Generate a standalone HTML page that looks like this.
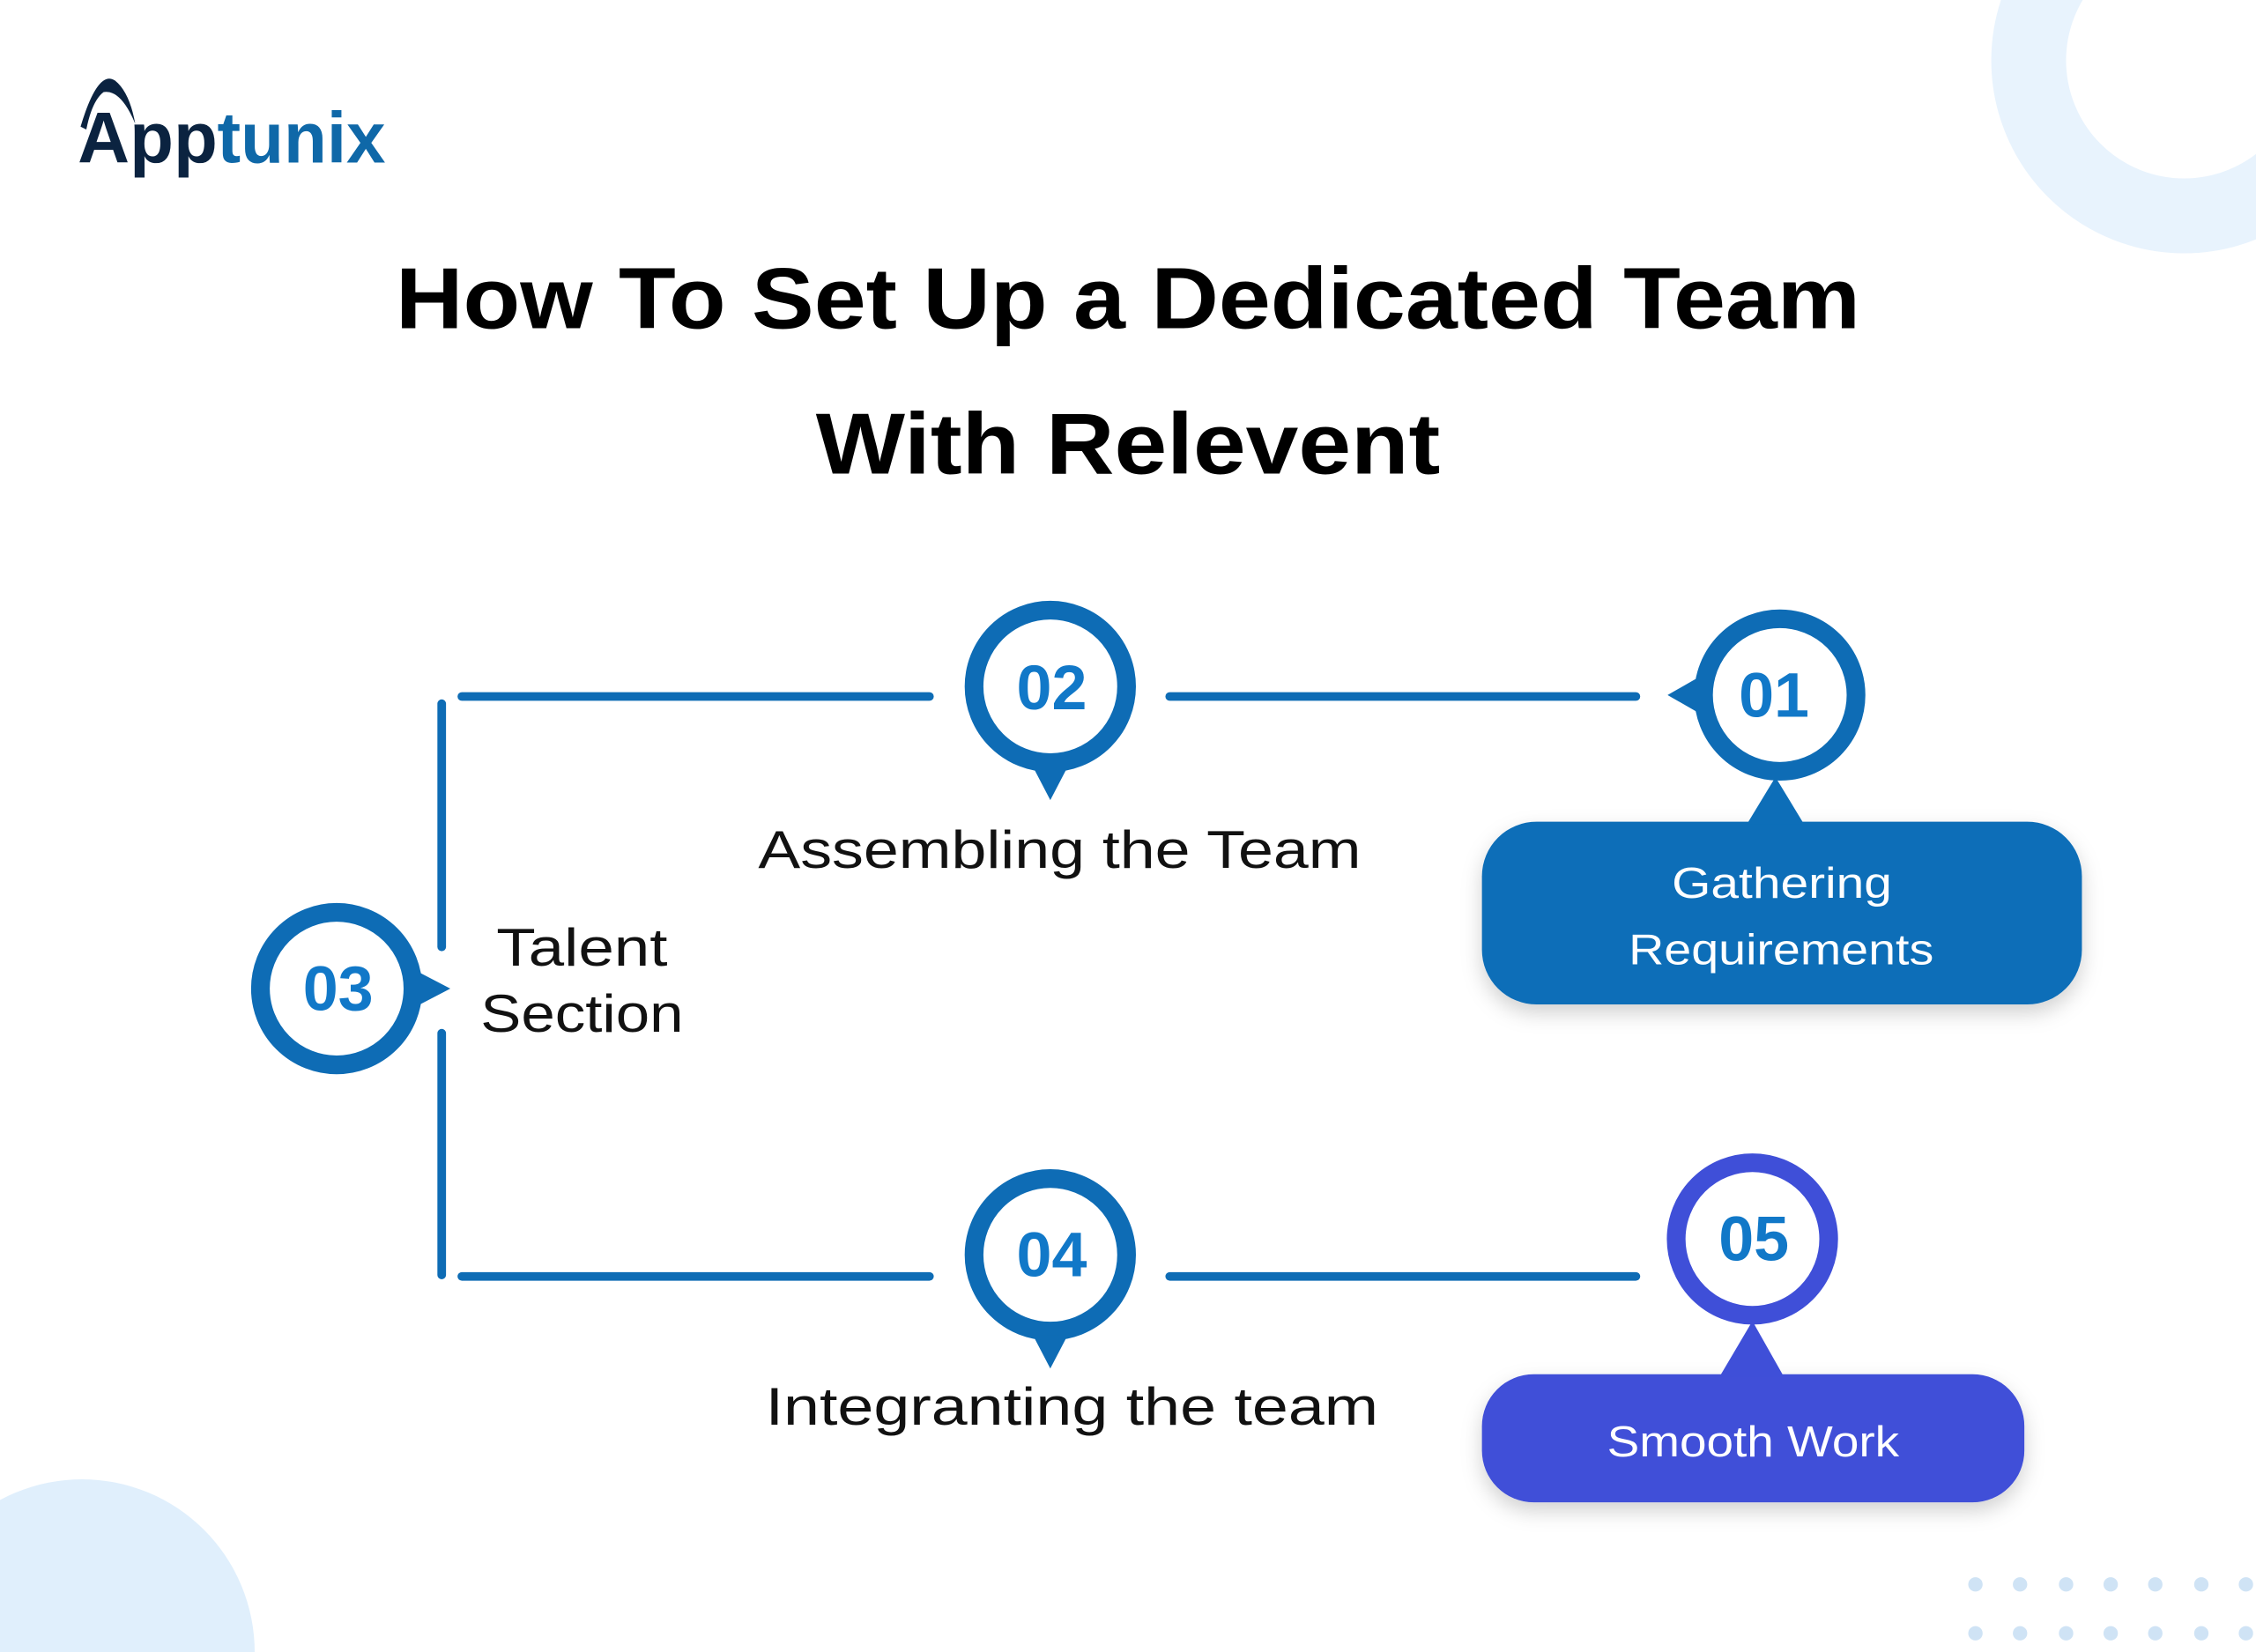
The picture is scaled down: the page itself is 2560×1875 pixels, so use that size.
<!DOCTYPE html>
<html><head><meta charset="utf-8"><style>
html,body{margin:0;padding:0;background:#fff;width:2560px;height:1875px;overflow:hidden;}
svg{display:block;}
text{font-family:"Liberation Sans",sans-serif;}
</style></head><body>
<svg width="2560" height="1875" viewBox="0 0 1568 1148" preserveAspectRatio="none" xmlns="http://www.w3.org/2000/svg">
<defs>
<filter id="sh" x="-10%" y="-20%" width="120%" height="150%"><feDropShadow dx="0" dy="6" stdDeviation="7" flood-color="#000" flood-opacity="0.18"/></filter>
</defs>
<rect width="1568" height="1148" fill="#fff"/>
<circle cx="1518" cy="42" r="108" fill="none" stroke="#e8f3fd" stroke-width="52"/>
<circle cx="57" cy="1148" r="120" fill="#e0effc"/>
<g fill="#cfe3f5">
<circle cx="1373" cy="1101" r="5"/><circle cx="1404" cy="1101" r="5"/><circle cx="1436" cy="1101" r="5"/><circle cx="1467" cy="1101" r="5"/><circle cx="1498" cy="1101" r="5"/><circle cx="1530" cy="1101" r="5"/><circle cx="1561" cy="1101" r="5"/>
<circle cx="1373" cy="1135" r="5"/><circle cx="1404" cy="1135" r="5"/><circle cx="1436" cy="1135" r="5"/><circle cx="1467" cy="1135" r="5"/><circle cx="1498" cy="1135" r="5"/><circle cx="1530" cy="1135" r="5"/><circle cx="1561" cy="1135" r="5"/>
</g>
<path d="M56 88 Q68 48 80 56 Q90 64 94 86 Q84 62 72 64 Q64 70 60 90 Z" fill="#0b2340"/>
<text x="54" y="113" font-size="50" font-weight="bold" fill="#0b2340">App</text>
<text x="151" y="113" font-size="50" font-weight="bold" fill="#0f68a8" textLength="117" lengthAdjust="spacingAndGlyphs">tunix</text>
<text x="275" y="228" font-size="60" font-weight="bold" fill="#000" textLength="1018" lengthAdjust="spacingAndGlyphs">How To Set Up a Dedicated Team</text>
<text x="567" y="329" font-size="60" font-weight="bold" fill="#000" textLength="434" lengthAdjust="spacingAndGlyphs">With Relevent</text>
<g stroke="#0e6cb5" stroke-width="6" stroke-linecap="round" fill="none">
<line x1="321" y1="484" x2="646" y2="484"/>
<line x1="813" y1="484" x2="1137" y2="484"/>
<line x1="321" y1="887" x2="646" y2="887"/>
<line x1="813" y1="887" x2="1137" y2="887"/>
<line x1="307" y1="489" x2="307" y2="658"/>
<line x1="307" y1="718" x2="307" y2="886"/>
</g>
<rect x="1030" y="571" width="417" height="127" rx="38" fill="#0d6eb8" filter="url(#sh)"/>
<polygon points="1214,573 1234,540 1254,573" fill="#0d6eb8"/>
<text x="1162" y="624" font-size="30" fill="#fff" textLength="153" lengthAdjust="spacingAndGlyphs">Gathering</text>
<text x="1132" y="670" font-size="30" fill="#fff" textLength="212" lengthAdjust="spacingAndGlyphs">Requirements</text>
<rect x="1030" y="955" width="377" height="89" rx="36" fill="#3f4fd8" filter="url(#sh)"/>
<polygon points="1195,957 1218,918 1240,957" fill="#3f4fd8"/>
<text x="1117" y="1012" font-size="30" fill="#fff" textLength="203" lengthAdjust="spacingAndGlyphs">Smooth Work</text>
<g fill="#fff" stroke="#0e6cb5" stroke-width="13">
<circle cx="730" cy="477" r="53"/>
<circle cx="1237" cy="483" r="53"/>
<circle cx="234" cy="687" r="53"/>
<circle cx="730" cy="872" r="53"/>
</g>
<circle cx="1218" cy="861" r="53" fill="#fff" stroke="#3f4fd8" stroke-width="13"/>
<g fill="#0e6cb5">
<polygon points="718,533 730,556 742,533"/>
<polygon points="718,928 730,951 742,928"/>
<polygon points="1180,471 1159,483 1180,495"/>
<polygon points="290,675 313,687 290,699"/>
</g>
<g font-size="44" font-weight="bold" fill="#1178c8" text-anchor="middle">
<text x="731" y="493">02</text>
<text x="1233" y="498">01</text>
<text x="235" y="702">03</text>
<text x="731" y="887">04</text>
<text x="1219" y="876">05</text>
</g>
<g font-size="37" fill="#111">
<text x="527" y="603" textLength="419" lengthAdjust="spacingAndGlyphs">Assembling the Team</text>
<text x="345" y="671" textLength="119" lengthAdjust="spacingAndGlyphs">Talent</text>
<text x="334" y="717" textLength="141" lengthAdjust="spacingAndGlyphs">Section</text>
<text x="532" y="990" textLength="426" lengthAdjust="spacingAndGlyphs">Integranting the team</text>
</g>
</svg>
</body></html>
